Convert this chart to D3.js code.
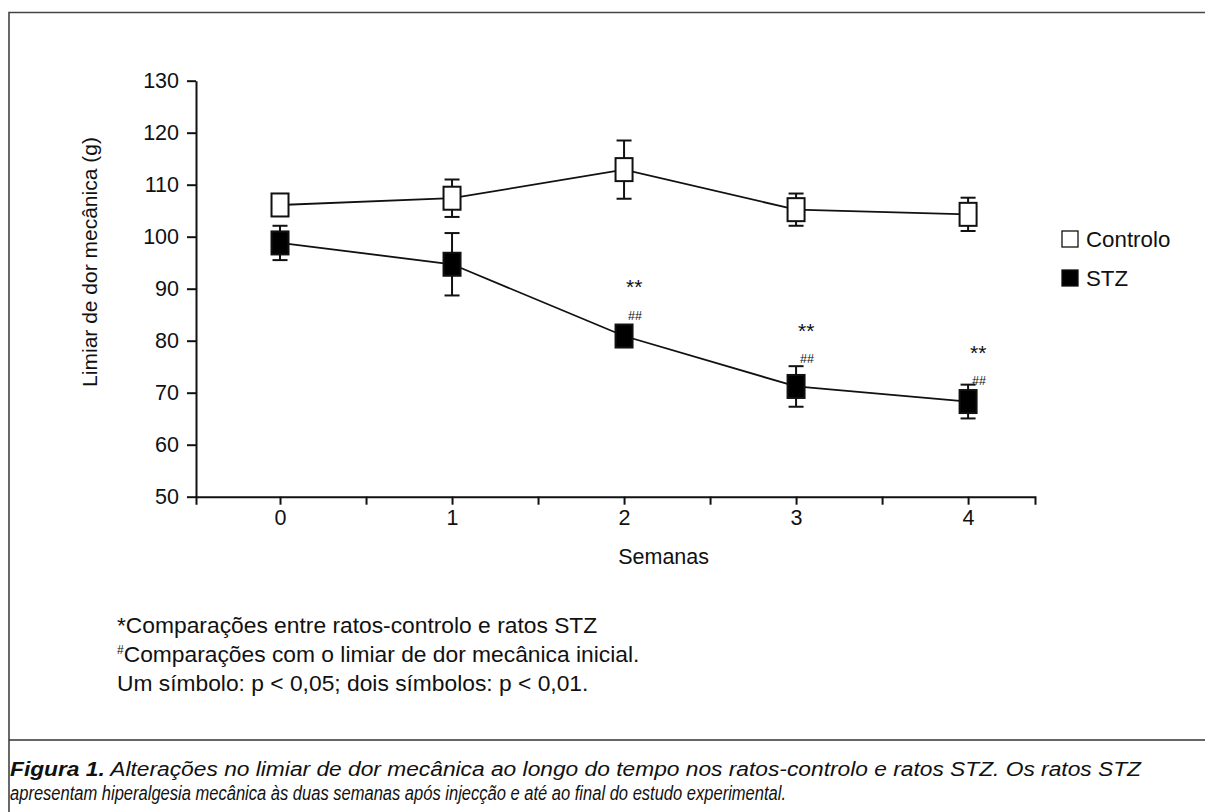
<!DOCTYPE html>
<html>
<head>
<meta charset="utf-8">
<script src="https://cdn.jsdelivr.net/npm/d3@7"></script>
<style>
  html, body { margin: 0; padding: 0; background: #fff; }
  svg { display: block; font-family: "Liberation Sans", Arial, Helvetica, sans-serif; }
</style>
</head>
<body>
<svg id="chart" width="1205" height="812"></svg>
<script>
// ---- data ----
const weeks = [0, 1, 2, 3, 4];
const controloMean = [106.1, 107.4, 112.9, 105.2, 104.3];
const controloErr  = [1.8, 3.6, 5.6, 3.1, 3.2];
const stzMean = [98.8, 94.7, 80.9, 71.2, 68.3];
const stzErr  = [3.3, 6.0, 1.5, 3.9, 3.25];
const starLabels = ["", "", "**", "**", "**"];
const starValue  = [null, null, 91.1, 82.6, 78.4];
const hashLabels = ["", "", "##", "##", "##"];
const hashValue  = [null, null, 84.9, 76.7, 72.4];
const yTicks = [50, 60, 70, 80, 90, 100, 110, 120, 130];
const xMajorTicks = [0, 1, 2, 3, 4];
const xMinorTicks = [0.5, 1.5, 2.5, 3.5];
const seriesNames = ["Controlo", "STZ"];
const yLabel = "Limiar de dor mecânica (g)";
const xLabel = "Semanas";
const footnotes = [
  {sup: "", text: "*Comparações entre ratos-controlo e ratos STZ"},
  {sup: "#", text: "Comparações com o limiar de dor mecânica inicial."},
  {sup: "", text: "Um símbolo: p < 0,05; dois símbolos: p < 0,01."}
];
const captionBold = "Figura 1.";
const captionLine1 = " Alterações no limiar de dor mecânica ao longo do tempo nos ratos-controlo e ratos STZ. Os ratos STZ";
const captionLine2 = "apresentam hiperalgesia mecânica às duas semanas após injecção e até ao final do estudo experimental.";

// ---- layout ----
const svg = d3.select("#chart");
const ink = "#111";
const x = d3.scaleLinear().domain([-0.4884, 4.389]).range([196, 1035]);
const y = d3.scaleLinear().domain([50, 130]).range([496.7, 80.7]);

// frame
svg.append("rect").attr("x", 0).attr("y", 0).attr("width", 1205).attr("height", 812).attr("fill", "#fff");
svg.append("path")
  .attr("d", "M1206,12.5 H9 V812")
  .attr("fill", "none").attr("stroke", "#444").attr("stroke-width", 1.6);
svg.append("line").attr("x1", 9).attr("x2", 1206).attr("y1", 740).attr("y2", 740)
  .attr("stroke", "#333").attr("stroke-width", 1.6);

// y axis
const yAxis = d3.axisLeft(y).tickValues(yTicks).tickSize(9).tickPadding(8).tickSizeOuter(0);
const gy = svg.append("g").attr("transform", `translate(${x.range()[0]},0)`).call(yAxis);
gy.select(".domain").attr("stroke", ink).attr("stroke-width", 2);
gy.selectAll(".tick line").attr("stroke", ink).attr("stroke-width", 2);
gy.selectAll(".tick text").attr("font-size", 21.5).attr("fill", ink)
  .attr("font-family", "'Liberation Sans', Arial, sans-serif");

// x axis (major with labels)
const xAxis = d3.axisBottom(x).tickValues(xMajorTicks).tickSize(8).tickPadding(5).tickSizeOuter(8).tickFormat(d3.format("d"));
const gx = svg.append("g").attr("transform", `translate(0,${y(50)})`).call(xAxis);
gx.select(".domain").attr("stroke", ink).attr("stroke-width", 2);
gx.selectAll(".tick line").attr("stroke", ink).attr("stroke-width", 2);
gx.selectAll(".tick text").attr("font-size", 21.5).attr("fill", ink)
  .attr("font-family", "'Liberation Sans', Arial, sans-serif");
// minor ticks
const xMinor = d3.axisBottom(x).tickValues(xMinorTicks).tickSize(8).tickFormat("").tickSizeOuter(0);
const gxm = svg.append("g").attr("transform", `translate(0,${y(50)})`).call(xMinor);
gxm.select(".domain").remove();
gxm.selectAll(".tick line").attr("stroke", ink).attr("stroke-width", 2);

// axis labels
svg.append("text").attr("transform", "translate(97,262) rotate(-90)")
  .attr("text-anchor", "middle").attr("font-size", 21).attr("fill", ink).text(yLabel);
svg.append("text").attr("x", x(2.23)).attr("y", 564)
  .attr("text-anchor", "middle").attr("font-size", 21.5).attr("fill", ink).text(xLabel);

// series
const series = [
  {name: seriesNames[0], mean: controloMean, err: controloErr, fill: "#fff"},
  {name: seriesNames[1], mean: stzMean, err: stzErr, fill: "#000"}
];
const line = d3.line().x((d, i) => x(weeks[i])).y(d => y(d));
const boxW = 17, boxH = 23, capW = 15;

series.forEach(s => {
  svg.append("path").datum(s.mean).attr("d", line)
    .attr("fill", "none").attr("stroke", ink).attr("stroke-width", 1.8);
  const g = svg.append("g");
  const pts = g.selectAll("g.pt").data(s.mean).join("g").attr("class", "pt");
  pts.append("line")
    .attr("x1", (d, i) => x(weeks[i])).attr("x2", (d, i) => x(weeks[i]))
    .attr("y1", (d, i) => y(d + s.err[i])).attr("y2", (d, i) => y(d - s.err[i]))
    .attr("stroke", ink).attr("stroke-width", 2);
  [1, -1].forEach(sign => {
    pts.append("line")
      .attr("x1", (d, i) => x(weeks[i]) - capW / 2).attr("x2", (d, i) => x(weeks[i]) + capW / 2)
      .attr("y1", (d, i) => y(d + sign * s.err[i])).attr("y2", (d, i) => y(d + sign * s.err[i]))
      .attr("stroke", ink).attr("stroke-width", 2);
  });
  pts.append("rect")
    .attr("x", (d, i) => x(weeks[i]) - boxW / 2).attr("y", d => y(d) - boxH / 2)
    .attr("width", boxW).attr("height", boxH)
    .attr("fill", s.fill).attr("stroke", ink).attr("stroke-width", 2);
});

// significance annotations
weeks.forEach((w, i) => {
  if (starLabels[i]) {
    svg.append("text").attr("x", x(w) + 2).attr("y", y(starValue[i]) + 11)
      .attr("font-size", 21).attr("fill", ink).text(starLabels[i]);
  }
  if (hashLabels[i]) {
    svg.append("text").attr("x", x(w) + 4).attr("y", y(hashValue[i]) + 5)
      .attr("font-size", 12.5).attr("fill", ink).text(hashLabels[i]);
  }
});

// legend
const legend = svg.append("g").attr("transform", "translate(1062,231)");
series.forEach((s, i) => {
  const row = legend.append("g").attr("transform", `translate(0,${i * 39})`);
  row.append("rect").attr("x", 0).attr("y", 0).attr("width", 16).attr("height", 16)
    .attr("fill", s.fill).attr("stroke", ink).attr("stroke-width", 1.3);
  row.append("text").attr("x", 24).attr("y", 16).attr("font-size", 22.3).attr("fill", ink).text(s.name);
});

// footnotes
footnotes.forEach((f, i) => {
  const t = svg.append("text").attr("x", 117).attr("y", 633 + i * 29).attr("font-size", 22.8).attr("fill", ink);
  if (f.sup) {
    t.append("tspan").attr("font-size", 12).attr("dy", -8).text(f.sup);
    t.append("tspan").attr("dy", 8).text(f.text);
  } else {
    t.text(f.text);
  }
});

// caption
const c1 = svg.append("text").attr("x", 10).attr("y", 776).attr("font-size", 20)
  .attr("font-style", "italic").attr("fill", ink)
  .attr("textLength", 1131).attr("lengthAdjust", "spacingAndGlyphs");
c1.append("tspan").attr("font-weight", "bold").text(captionBold);
c1.append("tspan").text(captionLine1);
svg.append("text").attr("x", 10).attr("y", 800).attr("font-size", 20)
  .attr("font-style", "italic").attr("fill", ink)
  .attr("textLength", 776).attr("lengthAdjust", "spacingAndGlyphs")
  .text(captionLine2);
</script>
</body>
</html>
